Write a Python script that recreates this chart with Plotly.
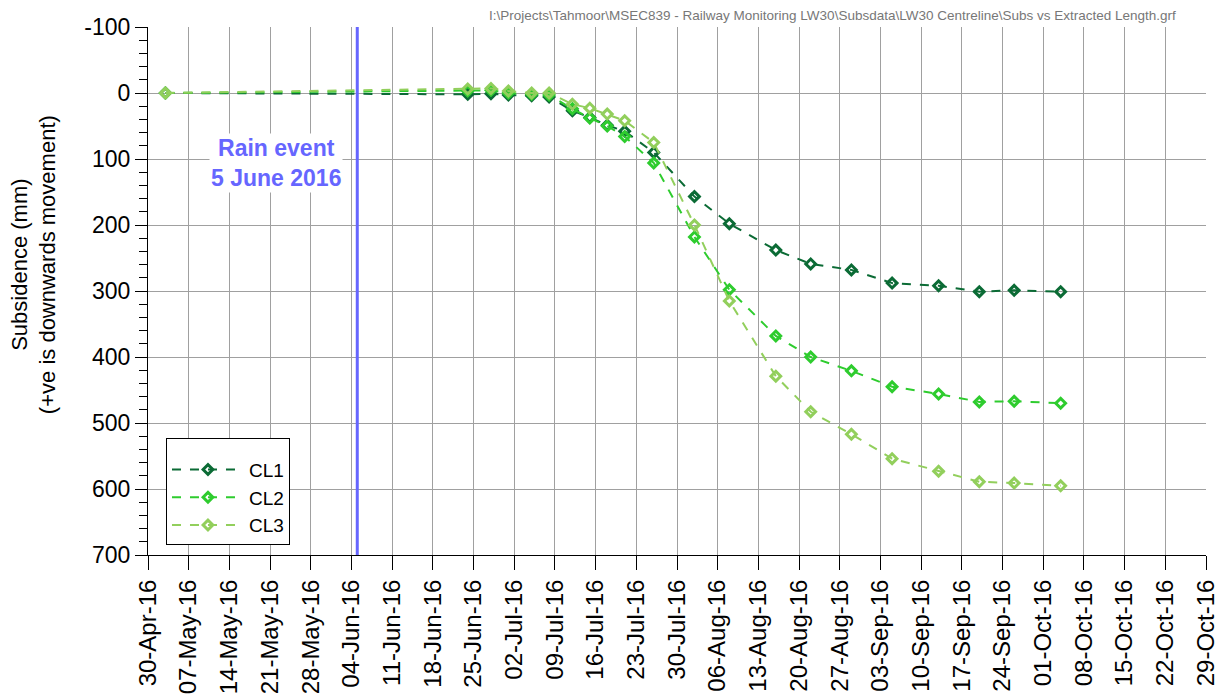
import plotly.graph_objects as go

# Survey dates for the LW30 centreline monitoring points
survey_dates = [
    "2016-05-03", "2016-06-24", "2016-06-28", "2016-07-01", "2016-07-05",
    "2016-07-08", "2016-07-12", "2016-07-15", "2016-07-18", "2016-07-21",
    "2016-07-26", "2016-08-02", "2016-08-08", "2016-08-16", "2016-08-22",
    "2016-08-29", "2016-09-05", "2016-09-13", "2016-09-20", "2016-09-26",
    "2016-10-04",
]

# Subsidence in mm (+ve is downwards movement)
cl1 = [0, 2, 1, 3, 4, 6, 27, 37, 49, 58, 90, 157, 198, 238, 259, 268, 288, 292, 301, 299, 301]
cl2 = [0, -3, -4, 0, 2, 3, 24, 38, 50, 66, 106, 218, 298, 368, 400, 421, 445, 456, 468, 467, 470]
cl3 = [0, -6, -7, -3, 0, 0, 17, 23, 32, 42, 75, 200, 315, 429, 483, 517, 554, 573, 589, 591, 595]

series_names = ["CL1", "CL2", "CL3"]
series_values = [cl1, cl2, cl3]
series_colors = ["#0b6b35", "#2ecc2e", "#92cf5c"]

# Y-axis tick values and labels (plain hyphen for negatives)
y_tickvals = [-100, 0, 100, 200, 300, 400, 500, 600, 700]
y_ticktext = ["-100", "0", "100", "200", "300", "400", "500", "600", "700"]

rain_date = "2016-06-05"
rain_label = "Rain event<br>5 June 2016"
y_title = "Subsidence (mm)<br>(+ve is downwards movement)"
file_path = r"I:\Projects\Tahmoor\MSEC839 - Railway Monitoring LW30\Subsdata\LW30 Centreline\Subs vs Extracted Length.grf"

FONT = "Arial, Liberation Sans, sans-serif"

fig = go.Figure()

for name, vals, col in zip(series_names, series_values, series_colors):
    fig.add_trace(go.Scatter(
        x=survey_dates, y=vals, name=name, legendgroup=name, mode="lines+markers",
        line=dict(color=col, width=2, dash="dash"),
        marker=dict(symbol="diamond-open", size=7.5, color=col,
                    line=dict(color=col, width=3)),
    ))

# Rain event marker line
fig.add_shape(type="line", xref="x", yref="paper", x0=rain_date, x1=rain_date,
              y0=0, y1=1, line=dict(color="#6666ff", width=3), layer="above")
fig.add_annotation(x=rain_date, xref="x", y=106, yref="y", text=rain_label,
                   showarrow=False, xanchor="right", xshift=-14,
                   font=dict(family=FONT, size=23, color="#6666ff", weight="bold"),
                   bgcolor="white", align="center")

# Y-axis title, placed as rotated text
fig.add_annotation(x=0, xref="paper", y=0.549, yref="paper", text=y_title,
                   showarrow=False, textangle=-90, xanchor="center", yanchor="middle",
                   xshift=-114, align="center",
                   font=dict(family=FONT, size=22, color="black"))

# File path caption
fig.add_annotation(x=1, xref="paper", y=1, yref="paper", text=file_path,
                   showarrow=False, xanchor="right", yanchor="bottom", xshift=-28, yshift=2,
                   font=dict(family=FONT, size=13.5, color="#777777"))

fig.update_layout(
    width=1221, height=695,
    margin=dict(l=148, r=15, t=27, b=140),
    paper_bgcolor="white", plot_bgcolor="white",
    font=dict(family=FONT, color="black"),
    showlegend=True,
    legend=dict(x=0.017, y=0.2216, xanchor="left", yanchor="top",
                bgcolor="white", bordercolor="black", borderwidth=1,
                font=dict(size=19), itemwidth=72, traceorder="grouped",
                tracegroupgap=0,
                title=dict(text="&nbsp;", font=dict(size=9))),
    hovermode=False,
)

fig.update_xaxes(
    type="date", range=["2016-04-30", "2016-10-29"],
    tick0="2016-04-30", dtick=7 * 86400000, tickformat="%d-%b-%y",
    tickangle=-90, tickfont=dict(size=24), automargin=False,
    ticks="outside", ticklen=14, tickcolor="black",
    showgrid=True, gridcolor="#a0a0a0", gridwidth=1,
    showline=True, linecolor="black", linewidth=1, zeroline=False,
)

fig.update_yaxes(
    range=[700, -100], tickmode="array", tickvals=y_tickvals, ticktext=y_ticktext,
    tickfont=dict(size=23), ticks="outside", ticklen=12, tickcolor="black",
    automargin=False,
    minor=dict(tickmode="linear", tick0=0, dtick=20, ticks="outside", ticklen=8,
               tickcolor="black", showgrid=False),
    showgrid=True, gridcolor="#a0a0a0", gridwidth=1,
    showline=True, linecolor="black", linewidth=1, zeroline=False,
)

fig.write_html("out.html")
